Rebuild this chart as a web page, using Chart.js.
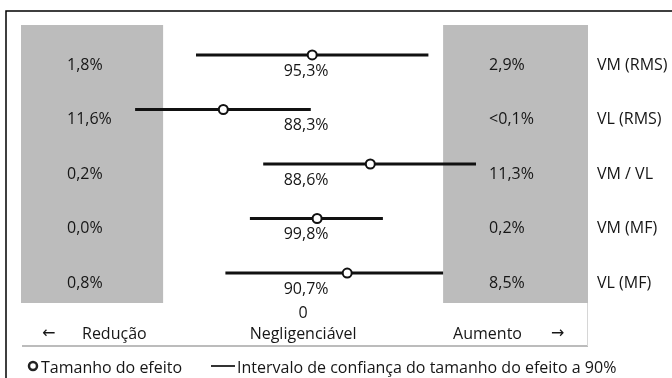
<!DOCTYPE html>
<html>
<head>
<meta charset="utf-8">
<style>
  html, body { margin: 0; padding: 0; background: #fff; }
  #wrap { width: 672px; height: 378px; position: relative; }
</style>
<script src="https://cdn.jsdelivr.net/npm/chart.js@4/dist/chart.umd.min.js"></script>
</head>
<body>
<div id="wrap"><canvas id="c" width="672" height="378"></canvas></div>
<script>
// Outcomes, effect sizes with 90% confidence limits, and chance of each outcome
const outcomes = ['VM (RMS)', 'VL (RMS)', 'VM / VL', 'VM (MF)', 'VL (MF)'];
const effectSize = [0.013, -0.114, 0.096, 0.020, 0.063];
const ciLower = [-0.153, -0.240, -0.057, -0.076, -0.111];
const ciUpper = [0.179, 0.011, 0.247, 0.114, 0.200];
const chanceReduction = ['1,8%', '11,6%', '0,2%', '0,0%', '0,8%'];
const chanceTrivial = ['95,3%', '88,3%', '88,6%', '99,8%', '90,7%'];
const chanceIncrease = ['2,9%', '<0,1%', '11,3%', '0,2%', '8,5%'];
const zeroTick = ['0'];
const smallestChange = 0.2;   // trivial zone is -0.2 .. 0.2
const axisMin = -0.403;
const axisMax = 0.407;

const FONT = "'Open Sans', 'Noto Sans', sans-serif";
const TEXT = '#161616';
const LINE = '#111111';

const datasets = [{
  type: 'scatter',
  label: 'Tamanho do efeito',
  data: effectSize.map((v, i) => ({ x: v, y: i })),
  pointRadius: 4.5,
  pointHoverRadius: 4.5,
  pointBorderWidth: 2,
  pointBackgroundColor: '#ffffff',
  pointBorderColor: LINE,
  order: 0
}];
outcomes.forEach((name, i) => {
  datasets.push({
    type: 'line',
    label: name,
    data: [{ x: ciLower[i], y: i }, { x: ciUpper[i], y: i }],
    borderColor: LINE,
    borderWidth: 3,
    pointRadius: 0,
    fill: false,
    order: 1
  });
});

const zones = {
  id: 'zones',
  beforeDatasetsDraw(chart) {
    const { ctx, chartArea: a, scales: { x } } = chart;
    ctx.save();
    ctx.fillStyle = '#bcbcbc';
    const l0 = x.getPixelForValue(axisMin), l1 = x.getPixelForValue(-smallestChange);
    const r0 = x.getPixelForValue(smallestChange), r1 = x.getPixelForValue(axisMax);
    ctx.fillRect(l0, a.top, l1 - l0, a.bottom - a.top);
    ctx.fillRect(r0, a.top, r1 - r0, a.bottom - a.top);
    ctx.restore();
  }
};

const annotations = {
  id: 'annotations',
  afterDatasetsDraw(chart) {
    const { ctx, chartArea: a, scales: { x, y } } = chart;
    const W = chart.width, H = chart.height;
    const font = '16px ' + FONT;
    const arrowFont = '16px "DejaVu Sans", sans-serif';
    ctx.save();
    ctx.font = font;
    ctx.fillStyle = TEXT;
    ctx.textBaseline = 'middle';

    const leftBox = x.getPixelForValue(axisMin);
    const rightBox = x.getPixelForValue(smallestChange);
    const zeroX = x.getPixelForValue(0);

    outcomes.forEach((name, i) => {
      const py = y.getPixelForValue(i);
      ctx.textAlign = 'left';
      ctx.fillText(chanceReduction[i], leftBox + 46, py + 10);
      ctx.fillText(chanceIncrease[i], rightBox + 46, py + 10);
      ctx.fillText(name, a.right + 9, py + 10);
      ctx.textAlign = 'center';
      ctx.fillText(chanceTrivial[i], zeroX + 3, py + 16);
    });

    // direction strip under the plot
    const base = a.bottom;
    ctx.textAlign = 'center';
    ctx.fillText(zeroTick[0], zeroX, base + 10);
    ctx.fillText('Negligenciável', zeroX, base + 31);
    ctx.textAlign = 'left';
    ctx.fillText('Redução', a.left + 61, base + 31);
    ctx.fillText('Aumento', rightBox + 10, base + 31);
    ctx.font = arrowFont;
    ctx.fillText('←', a.left + 21, base + 31);
    ctx.fillText('→', rightBox + 108, base + 31);
    ctx.font = font;

    ctx.strokeStyle = '#a6a6a6';
    ctx.lineWidth = 1.5;
    ctx.beginPath();
    ctx.moveTo(a.left + 1, base + 43);
    ctx.lineTo(a.right, base + 43);
    ctx.stroke();
    ctx.strokeStyle = '#d6d6d6';
    ctx.lineWidth = 1;
    ctx.beginPath();
    ctx.moveTo(a.right - 0.5, base);
    ctx.lineTo(a.right - 0.5, base + 43);
    ctx.stroke();

    // legend
    const ly = base + 63;
    ctx.strokeStyle = '#222';
    ctx.lineWidth = 2.5;
    ctx.fillStyle = '#fff';
    ctx.beginPath();
    ctx.arc(33, ly, 4, 0, Math.PI * 2);
    ctx.fill();
    ctx.stroke();
    ctx.fillStyle = TEXT;
    ctx.textAlign = 'left';
    ctx.fillText('Tamanho do efeito', 41, ly + 2);
    ctx.strokeStyle = '#333';
    ctx.lineWidth = 2;
    ctx.beginPath();
    ctx.moveTo(211, ly);
    ctx.lineTo(235, ly);
    ctx.stroke();
    ctx.fillText('Intervalo de confiança do tamanho do efeito a 90%', 237, ly + 2);

    // outer frame
    ctx.strokeStyle = '#000';
    ctx.lineWidth = 1.5;
    ctx.beginPath();
    ctx.moveTo(6, H);
    ctx.lineTo(6, 11);
    ctx.lineTo(W, 11);
    ctx.stroke();
    ctx.restore();
  }
};

new Chart(document.getElementById('c'), {
  type: 'scatter',
  data: { datasets },
  options: {
    responsive: false,
    devicePixelRatio: 1,
    animation: false,
    events: [],
    layout: { padding: { left: 21, right: 84, top: 25, bottom: 75 } },
    plugins: { legend: { display: false }, tooltip: { enabled: false } },
    scales: {
      x: { type: 'linear', min: axisMin, max: axisMax, display: false },
      y: { type: 'linear', min: -0.55, max: 4.55, reverse: true, display: false }
    }
  },
  plugins: [zones, annotations]
});
</script>
</body>
</html>
